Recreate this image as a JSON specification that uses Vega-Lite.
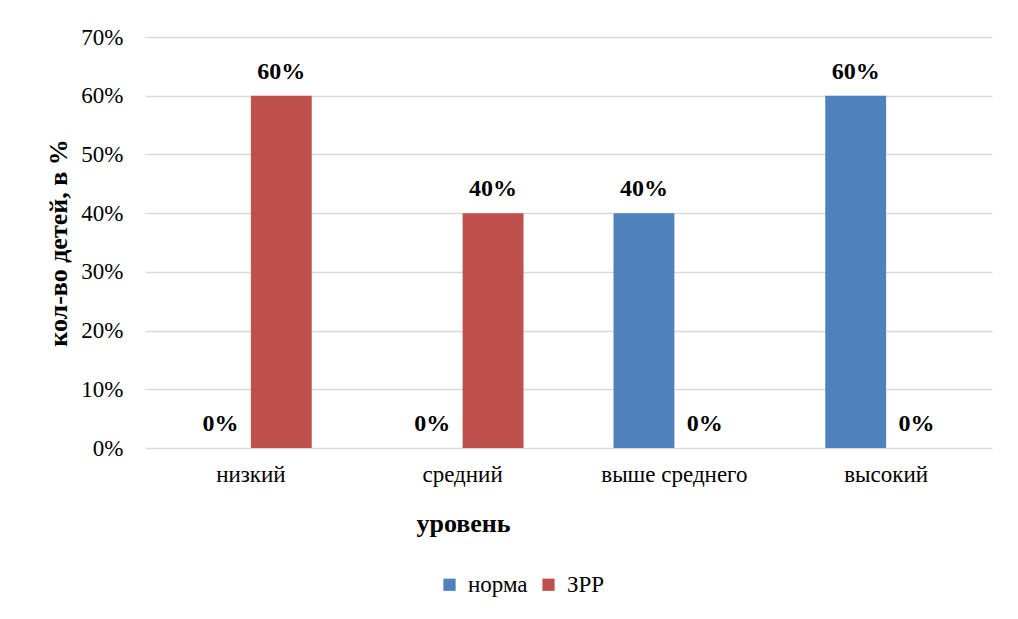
{
  "$schema": "https://vega.github.io/schema/vega-lite/v6.json",
  "width": 847,
  "height": 411,
  "autosize": {"type": "none"},
  "padding": {"left": 145, "top": 37, "right": 26, "bottom": 171},
  "background": "white",
  "config": {
    "font": "Liberation Serif",
    "view": {"stroke": null},
    "text": {"font": "Liberation Serif"},
    "axis": {"labelFont": "Liberation Serif", "titleFont": "Liberation Serif", "labelColor": "#000", "titleColor": "#000"},
    "legend": {"labelFont": "Liberation Serif"}
  },
  "data": {
    "values": [
      {"level": "низкий", "group": "норма", "value": 0},
      {"level": "низкий", "group": "ЗРР", "value": 0.6},
      {"level": "средний", "group": "норма", "value": 0},
      {"level": "средний", "group": "ЗРР", "value": 0.4},
      {"level": "выше среднего", "group": "норма", "value": 0.4},
      {"level": "выше среднего", "group": "ЗРР", "value": 0},
      {"level": "высокий", "group": "норма", "value": 0.6},
      {"level": "высокий", "group": "ЗРР", "value": 0}
    ]
  },
  "encoding": {
    "x": {
      "field": "level",
      "type": "nominal",
      "sort": ["низкий", "средний", "выше среднего", "высокий"],
      "scale": {"paddingInner": 0.425, "paddingOuter": 0.2125},
      "axis": {
        "title": "уровень",
        "titleFontSize": 26,
        "titleFontWeight": "bold",
        "titlePadding": 24,
        "titleX": 318,
        "labelAngle": 0,
        "labelFontSize": 23,
        "labelPadding": 15,
        "ticks": false,
        "domain": false
      }
    },
    "xOffset": {
      "field": "group",
      "type": "nominal",
      "sort": ["норма", "ЗРР"],
      "scale": {"paddingInner": 0, "paddingOuter": 0}
    },
    "y": {
      "field": "value",
      "type": "quantitative",
      "scale": {"domain": [0, 0.7]},
      "axis": {
        "title": "кол-во детей, в %",
        "titleFontSize": 26,
        "titleFontWeight": "bold",
        "titlePadding": 9,
        "format": ".0%",
        "values": [0, 0.1, 0.2, 0.3, 0.4, 0.5, 0.6, 0.7],
        "labelFontSize": 23,
        "labelPadding": 22,
        "ticks": false,
        "domain": false,
        "gridColor": "#d9d9d9",
        "gridWidth": 1.5
      }
    }
  },
  "layer": [
    {
      "mark": {"type": "bar"},
      "encoding": {
        "color": {
          "field": "group",
          "type": "nominal",
          "sort": ["норма", "ЗРР"],
          "scale": {"domain": ["норма", "ЗРР"], "range": ["#4F81BD", "#C0504D"]},
          "legend": {
            "title": null,
            "orient": "none",
            "legendX": 293,
            "legendY": 536,
            "direction": "horizontal",
            "symbolType": "square",
            "symbolSize": 150,
            "symbolStrokeWidth": 0,
            "labelFontSize": 23,
            "labelColor": "#000",
            "labelOffset": 7,
            "columnPadding": 9
          }
        }
      }
    },
    {
      "mark": {"type": "text", "fontSize": 24, "fontWeight": "bold", "baseline": "alphabetic", "dy": -17, "color": "#000"},
      "encoding": {
        "text": {"field": "value", "type": "quantitative", "format": ".0%"}
      }
    }
  ]
}
